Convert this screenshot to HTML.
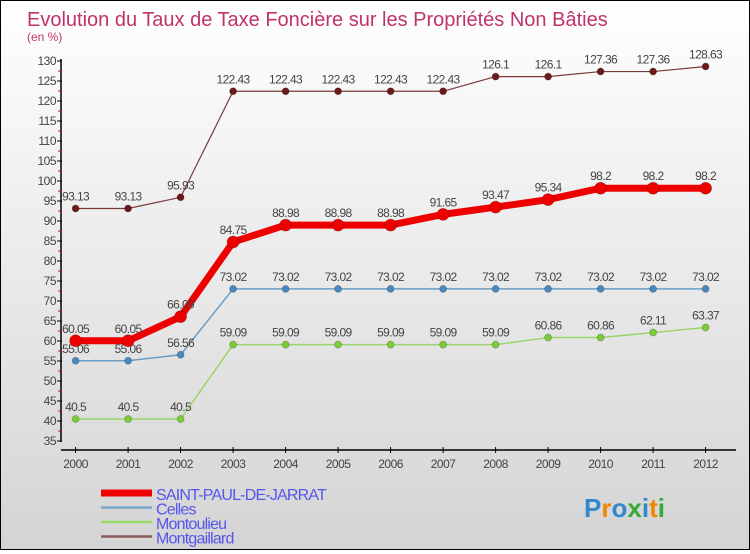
<!DOCTYPE html>
<html><head><meta charset="utf-8"><style>
body{margin:0;width:750px;height:550px;overflow:hidden;font-family:"Liberation Sans",sans-serif}
#c{position:absolute;left:0;top:0;width:748px;height:548px;border:1px solid #000;background:linear-gradient(#fff,#d4d4d4)}
</style></head><body>
<div id="c">
<svg id="s" width="748" height="548" xmlns="http://www.w3.org/2000/svg"></svg>
</div>
<script>
const years=["2000","2001","2002","2003","2004","2005","2006","2007","2008","2009","2010","2011","2012"];
const saint=[60.05,60.05,66.09,84.75,88.98,88.98,88.98,91.65,93.47,95.34,98.2,98.2,98.2];
const celles=[55.06,55.06,56.56,73.02,73.02,73.02,73.02,73.02,73.02,73.02,73.02,73.02,73.02];
const montoulieu=[40.5,40.5,40.5,59.09,59.09,59.09,59.09,59.09,59.09,60.86,60.86,62.11,63.37];
const montgaillard=[93.13,93.13,95.93,122.43,122.43,122.43,122.43,122.43,126.1,126.1,127.36,127.36,128.63];
const yTicks=[35,40,45,50,55,60,65,70,75,80,85,90,95,100,105,110,115,120,125,130];
const NS="http://www.w3.org/2000/svg";
const s=document.getElementById('s');
const X=i=>74.6+i*52.5, Y=v=>60+(130-v)*4;
function el(t,a,txt){const e=document.createElementNS(NS,t);for(const k in a)e.setAttribute(k,a[k]);if(txt!==undefined)e.textContent=txt;s.appendChild(e);return e;}
let t=el('text',{x:26,y:25,'font-size':20,fill:'#c0336a'},'Evolution du Taux de Taxe Foncière sur les Propriétés Non Bâties');


t=el('text',{x:26,y:40,'font-size':12,fill:'#c0336a'},'(en %)');


let a=el('line',{x1:60,y1:58,x2:60,y2:441,stroke:'#000','stroke-width':1.5});


a=el('line',{x1:60,y1:449,x2:735,y2:449,stroke:'#000','stroke-width':1.5});


yTicks.forEach(v=>{
 el('line',{x1:56,y1:Y(v),x2:61,y2:Y(v),stroke:'#000'});
 if(v>35)el('line',{x1:57,y1:Y(v-2.5),x2:60,y2:Y(v-2.5),stroke:'#e00'});
 const l=el('text',{x:55,y:Y(v)+4,'font-size':12,fill:'#444','text-anchor':'end','letter-spacing':'-0.5'},v);
 
 
});
years.forEach((y,i)=>{
 el('line',{x1:X(i),y1:446,x2:X(i),y2:452,stroke:'#000'});
 const l=el('text',{x:X(i),y:467,'font-size':12,fill:'#444','text-anchor':'middle','letter-spacing':'-0.5'},y);
 
 
});
function series(d,name,color,w,r,dot){
 const p=el('polyline',{points:d.map((v,i)=>X(i)+','+Y(v)).join(' '),fill:'none',stroke:color,'stroke-width':w,'stroke-linejoin':'round'});
 
 
 d.forEach((v,i)=>{
  const c=el('circle',{cx:X(i),cy:Y(v),r:r,fill:dot,stroke:'#0003'});
  
  
  const l=el('text',{x:X(i),y:Y(v)-8,'font-size':12,fill:'#444','text-anchor':'middle','letter-spacing':'-0.6'},v);
  
  
 });
}
series(montgaillard,'montgaillard','#7a3a3a',1.2,3.5,'#6a1a1a');
series(montoulieu,'montoulieu','#9ad46a',1.5,3.5,'#7ccc3a');
series(celles,'celles','#6a9ec6',1.5,3.5,'#4a88c0');
series(saint,'saint-paul-de-jarrat','#ee0000',7,6,'#ee0000');
const legend=[["SAINT-PAUL-DE-JARRAT","#ee0000",7],["Celles","#7aaac8",2.5],["Montoulieu","#99dd66",2.5],["Montgaillard","#8a5a5a",2.5]];
legend.forEach((g,i)=>{
 const y=493+i*14.5;
 const l=el('line',{x1:100,y1:y-1,x2:151,y2:y-1,stroke:g[1],'stroke-width':g[2]});
 
 
 const tx=el('text',{x:155,y:y+6,'font-size':16,fill:'#5555ee','letter-spacing':'-0.8'},g[0]);
 
 
});
t=el('text',{x:583,y:516,'font-size':26,'font-weight':'bold',fill:'#3388cc'});


[["P","#3388cc"],["r","#ee8800"],["o","#3388cc"],["x","#33aa33"],["i","#3388cc"],["t","#ee8800"],["i","#33aa33"]].forEach(p=>{const ts=document.createElementNS(NS,'tspan');ts.setAttribute('fill',p[1]);ts.textContent=p[0];t.appendChild(ts);});
</script>
</body></html>
